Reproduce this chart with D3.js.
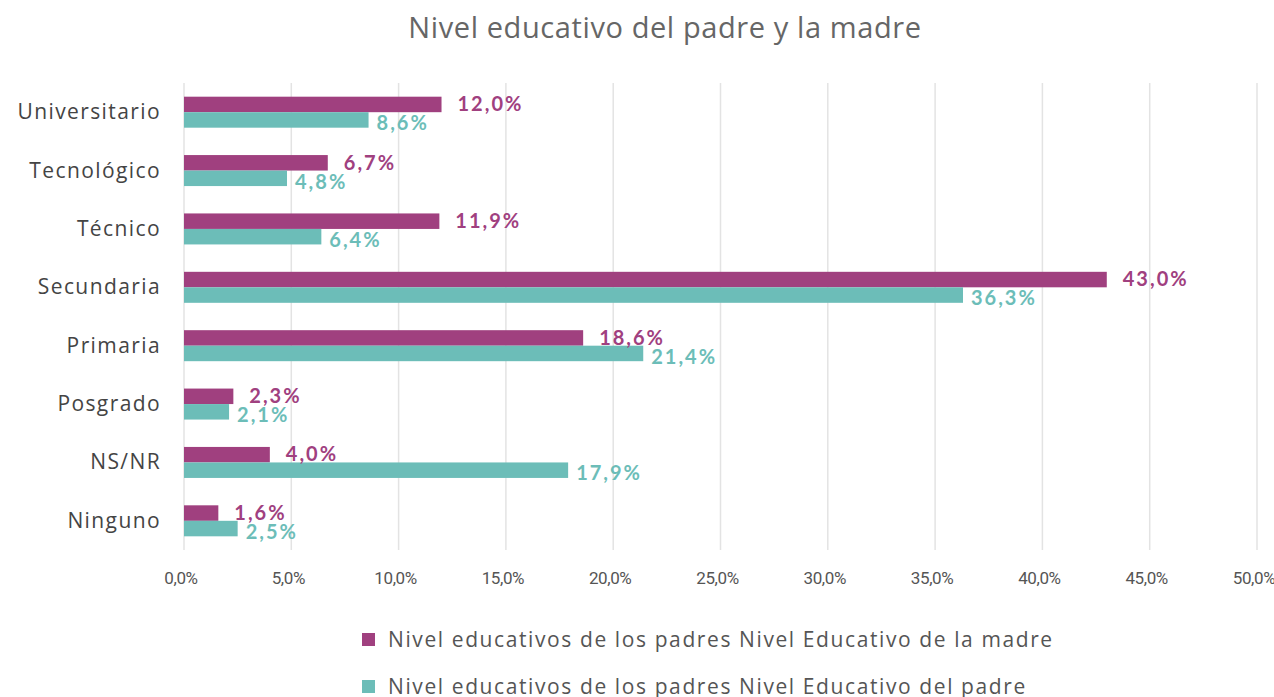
<!DOCTYPE html>
<html>
<head>
<meta charset="utf-8">
<script src="https://cdn.jsdelivr.net/npm/d3@7"></script>
<style>
  body { margin: 0; background: #fff; }
  svg { display: block; }
</style>
</head>
<body>
<div id="chart"></div>
<script>
// data
var categories = ["Universitario", "Tecnológico", "Técnico", "Secundaria", "Primaria", "Posgrado", "NS/NR", "Ninguno"];
var madre = [12.0, 6.7, 11.9, 43.0, 18.6, 2.3, 4.0, 1.6];
var padre = [8.6, 4.8, 6.4, 36.3, 21.4, 2.1, 17.9, 2.5];
var seriesNames = ["Nivel educativos de los padres Nivel Educativo de la madre",
                   "Nivel educativos de los padres Nivel Educativo del padre"];
var ticks = [0, 5, 10, 15, 20, 25, 30, 35, 40, 45, 50];

var width = 1274, height = 697;
var margin = {top: 83, left: 184, right: 17, bottom: 147};
var colors = ["#a0407f", "#6cbdb8"];

var svg = d3.select("#chart").append("svg")
    .attr("width", width)
    .attr("height", height);

var fmt = function(v) { return v.toFixed(1).replace(".", ",") + "%"; };

var x = d3.scaleLinear().domain([0, 50]).range([margin.left, width - margin.right]);
var y = d3.scaleBand().domain(categories).range([margin.top, height - margin.bottom]);

// title
svg.append("text")
    .attr("x", 665).attr("y", 38)
    .attr("text-anchor", "middle")
    .attr("font-family", "'Open Sans', sans-serif")
    .attr("font-size", 29)
    .attr("letter-spacing", 0.6)
    .attr("fill", "#666")
    .text("Nivel educativo del padre y la madre");

// gridlines
svg.append("g").selectAll("line")
    .data(ticks)
    .enter().append("line")
    .attr("x1", function(d) { return x(d); })
    .attr("x2", function(d) { return x(d); })
    .attr("y1", margin.top)
    .attr("y2", height - margin.bottom)
    .attr("stroke", "#e3e3e3")
    .attr("stroke-width", 1.5);

// x tick labels
svg.append("g").selectAll("text")
    .data(ticks)
    .enter().append("text")
    .attr("x", function(d) { return x(d) - 3; })
    .attr("y", 584)
    .attr("text-anchor", "middle")
    .attr("font-family", "Roboto, sans-serif")
    .attr("font-size", 17)
    .attr("letter-spacing", -0.4)
    .attr("fill", "#555")
    .text(function(d) { return d.toFixed(1).replace(".", ",") + "%"; });

// category labels
svg.append("g").selectAll("text")
    .data(categories)
    .enter().append("text")
    .attr("x", 161)
    .attr("y", function(d) { return y(d) + y.bandwidth() / 2 + 7; })
    .attr("text-anchor", "end")
    .attr("font-family", "'Open Sans', sans-serif")
    .attr("font-size", 21)
    .attr("letter-spacing", 1.4)
    .attr("fill", "#444")
    .text(function(d) { return d; });

var barH = 15.5;
var rows = categories.map(function(c, i) { return {cat: c, m: madre[i], p: padre[i]}; });

// madre bars
svg.append("g").selectAll("rect")
    .data(rows)
    .enter().append("rect")
    .attr("x", x(0))
    .attr("y", function(d) { return y(d.cat) + y.bandwidth() / 2 - barH; })
    .attr("width", function(d) { return x(d.m) - x(0); })
    .attr("height", barH)
    .attr("fill", colors[0]);

// padre bars
svg.append("g").selectAll("rect")
    .data(rows)
    .enter().append("rect")
    .attr("x", x(0))
    .attr("y", function(d) { return y(d.cat) + y.bandwidth() / 2; })
    .attr("width", function(d) { return x(d.p) - x(0); })
    .attr("height", barH)
    .attr("fill", colors[1]);

// value labels
svg.append("g").selectAll("text")
    .data(rows)
    .enter().append("text")
    .attr("x", function(d) { return x(d.m) + 16; })
    .attr("y", function(d) { return y(d.cat) + y.bandwidth() / 2 - 1; })
    .attr("font-family", "Lato, sans-serif")
    .attr("font-weight", "bold")
    .attr("font-size", 20)
    .attr("letter-spacing", 2)
    .attr("fill", colors[0])
    .text(function(d) { return fmt(d.m); });

svg.append("g").selectAll("text")
    .data(rows)
    .enter().append("text")
    .attr("x", function(d) { return x(d.p) + 8; })
    .attr("y", function(d) { return y(d.cat) + y.bandwidth() / 2 + 18; })
    .attr("font-family", "Lato, sans-serif")
    .attr("font-weight", "bold")
    .attr("font-size", 20)
    .attr("letter-spacing", 2)
    .attr("fill", colors[1])
    .text(function(d) { return fmt(d.p); });

// legend
var legend = svg.append("g").selectAll("g")
    .data(seriesNames)
    .enter().append("g")
    .attr("transform", function(d, i) { return "translate(362," + (640 + i * 47) + ")"; });

legend.append("rect")
    .attr("x", 0).attr("y", -7)
    .attr("width", 13).attr("height", 13)
    .attr("fill", function(d, i) { return colors[i]; });

legend.append("text")
    .attr("x", 26).attr("y", 7)
    .attr("font-family", "'Open Sans', sans-serif")
    .attr("font-size", 21)
    .attr("letter-spacing", 1.6)
    .attr("fill", "#555")
    .text(function(d) { return d; });
</script>
</body>
</html>
